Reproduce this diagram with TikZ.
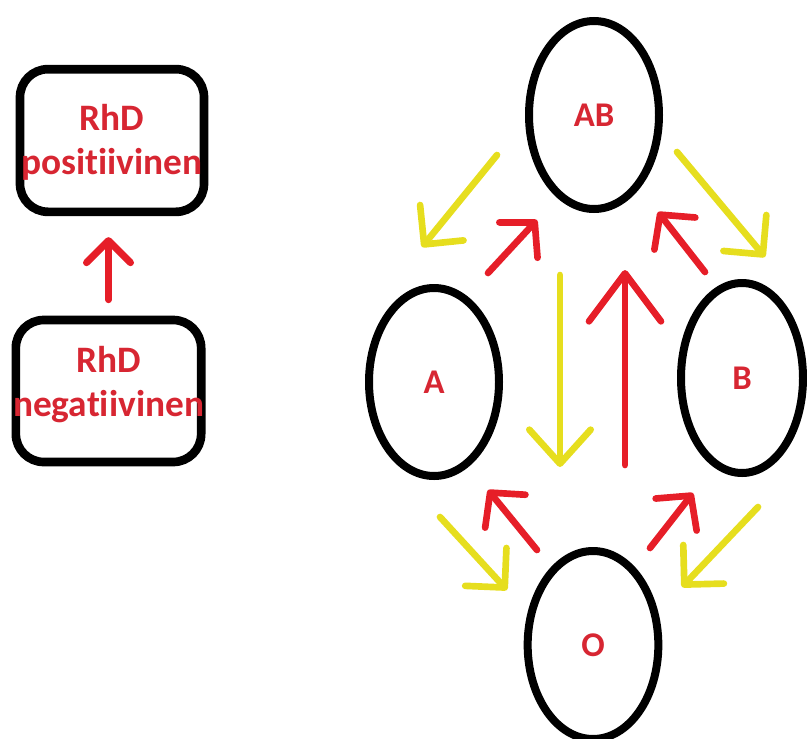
\documentclass[tikz,border=0pt]{standalone}
\usepackage{fontspec}
\setmainfont{Carlito}[Ligatures={NoCommon,NoRare}]
\usetikzlibrary{shapes.geometric,arrows.meta}

\definecolor{rhred}{RGB}{230,30,40}
\definecolor{rhyellow}{RGB}{230,222,30}
\definecolor{lblred}{RGB}{215,38,50}

\tikzset{
  rhbox/.style={draw=black,line width=6.5pt,rounded corners=21pt,inner sep=0pt},
  boxtxt/.style={text=lblred,font=\fontsize{28}{33}\selectfont\bfseries,align=center,inner sep=0pt},
  blood/.style={ellipse,draw=black,line width=6pt,inner sep=0pt,text=lblred,
    font=\fontsize{26}{30}\selectfont\bfseries},
  barb/.style 2 args={-{Straight Barb[length=#1,width=#2,round]}},
  rarr/.style={draw=rhred,line width=5pt,line cap=round},
  yarr/.style={draw=rhyellow,line width=5pt,line cap=round}
}

\begin{document}
\begin{tikzpicture}[x=0.75pt,y=0.75pt,yscale=-1,xscale=1]
\useasboundingbox (0,0) rectangle (807,739);

% RhD boxes
\node (pos) [rhbox,minimum width=138pt,minimum height=107pt,
  label={[boxtxt,yshift=-1.5pt]center:{RhD\\positiivinen}}] at (112,140.5) {};
\node (neg) [rhbox,minimum width=139pt,minimum height=106.5pt,
  label={[boxtxt,yshift=4.5pt]center:{RhD\\negatiivinen}}] at (108.5,391) {};
\draw [rarr,line width=5.25pt,barb={16.5pt}{33pt},shorten <=12pt,shorten >=15.75pt]
  (neg.north) -- (neg.north |- pos.south);

% blood groups
\node (AB) [blood,minimum width=97.5pt,minimum height=141pt] at (594,115) {AB};
\node (A) [blood,minimum width=97.5pt,minimum height=141pt] at (434,382) {A};
\node (B) [blood,minimum width=91.5pt,minimum height=142.5pt] at (742,378) {B};
\node (O) [blood,minimum width=98pt,minimum height=141pt] at (593,645) {O};

% arrow ends
\coordinate (y1s) at (497,155); \coordinate (y1e) at (422,247);
\coordinate (y2s) at (677,152); \coordinate (y2e) at (765,257);
\coordinate (y3s) at (560,275); \coordinate (y3e) at (560,467);
\coordinate (y4s) at (440,517); \coordinate (y4e) at (507,590);
\coordinate (y5s) at (758,507); \coordinate (y5e) at (682,587);
\coordinate (r1s) at (488,273); \coordinate (r1e) at (537,220);
\coordinate (r2s) at (705,272); \coordinate (r2e) at (658,212);
\coordinate (r3s) at (625,465); \coordinate (r3e) at (625,270);
\coordinate (r4s) at (537,550); \coordinate (r4e) at (488,490);
\coordinate (r5s) at (650,548); \coordinate (r5e) at (693,493);

% yellow arrows (parent -> child)
\draw [yarr,barb={21pt}{42pt}] (y1s) -- (y1e);
\draw [yarr,barb={21pt}{42pt}] (y2s) -- (y2e);
\draw [yarr,barb={25.5pt}{46pt}] (y3s) -- (y3e);
\draw [yarr,barb={21pt}{42pt}] (y4s) -- (y4e);
\draw [yarr,barb={21pt}{42pt}] (y5s) -- (y5e);

% red arrows
\draw [rarr,barb={18pt}{39pt}] (r1s) -- (r1e);
\draw [rarr,barb={18pt}{39pt}] (r2s) -- (r2e);
\draw [rarr,barb={36pt}{54pt}] (r3s) -- (r3e);
\draw [rarr,barb={18pt}{39pt}] (r4s) -- (r4e);
\draw [rarr,barb={18pt}{39pt}] (r5s) -- (r5e);

\end{tikzpicture}
\end{document}
